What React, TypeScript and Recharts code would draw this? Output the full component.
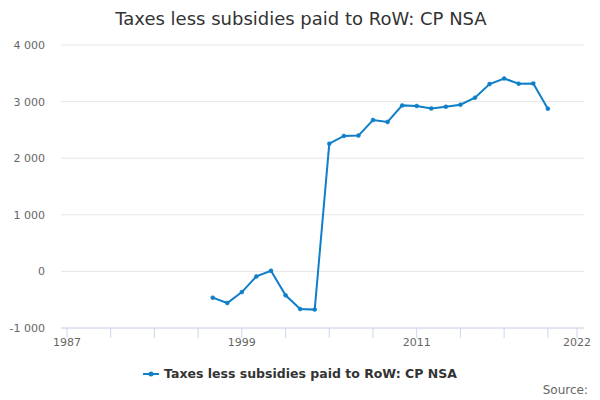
import React from 'react';
import { CartesianGrid, Legend, Line, LineChart, XAxis, YAxis } from 'recharts';

const years = [
  1997, 1998, 1999, 2000, 2001, 2002, 2003, 2004, 2005, 2006, 2007, 2008,
  2009, 2010, 2011, 2012, 2013, 2014, 2015, 2016, 2017, 2018, 2019, 2020,
];
const values = [
  -464, -559, -365, -88, 12, -423, -665, -675, 2257, 2393, 2399, 2675,
  2640, 2933, 2922, 2880, 2910, 2945, 3069, 3310, 3409, 3316, 3321, 2875,
];
const xTicks = [1987, 1990, 1993, 1996, 1999, 2002, 2005, 2008, 2011, 2014, 2017, 2020, 2022];
const xLabels = [1987, 1999, 2011, 2022];
const yTicks = [-1000, 0, 1000, 2000, 3000, 4000];

const seriesName = 'Taxes less subsidies paid to RoW: CP NSA';
const color = '#0f7fc8';
const font = '"DejaVu Sans", sans-serif';

const data = years.map((year, i) => ({ year, value: values[i] }));

const formatY = (v: number) => {
  const s = Math.abs(v).toString().replace(/\B(?=(\d{3})+(?!\d))/g, ' ');
  return v < 0 ? `-${s}` : s;
};

const LegendContent = () => (
  <div style={{ display: 'flex', justifyContent: 'center', alignItems: 'center', fontFamily: font }}>
    <svg width={16} height={10} style={{ marginRight: 5 }}>
      <line x1={0} y1={5} x2={16} y2={5} stroke={color} strokeWidth={2} />
      <circle cx={8} cy={5} r={2.5} fill={color} />
    </svg>
    <span style={{ fontSize: 12.5, fontWeight: 'bold', color: '#333333' }}>{seriesName}</span>
  </div>
);

export default function App() {
  return (
    <div style={{ position: 'absolute', left: 0, top: 0, width: 600, height: 400, background: '#fff', fontFamily: font }}>
      <div style={{ position: 'absolute', top: 8, left: 0, width: 602, textAlign: 'center', fontSize: 18, color: '#333333' }}>
        {seriesName}
      </div>
      <LineChart width={600} height={400} data={data} margin={{ top: 45, right: 16, left: 0, bottom: 0 }}>
        <CartesianGrid vertical={false} stroke="#e6e6e6" />
        <XAxis
          dataKey="year"
          type="number"
          domain={[1987, 2022]}
          ticks={xTicks}
          padding={{ left: 6, right: 7 }}
          height={72}
          tickSize={10}
          tickMargin={0}
          stroke="#ccd6eb"
          tick={{ fill: '#666666', fontSize: 11, fontFamily: font }}
          tickFormatter={(v: number) => (xLabels.includes(v) ? String(v) : '')}
        />
        <YAxis
          domain={[-1000, 4000]}
          ticks={yTicks}
          width={61}
          axisLine={false}
          tickLine={false}
          tickSize={0}
          tickMargin={16}
          tick={{ fill: '#666666', fontSize: 11, fontFamily: font }}
          tickFormatter={formatY}
        />
        <Legend
          layout="horizontal"
          verticalAlign="middle"
          align="center"
          wrapperStyle={{ top: 366, left: 0, width: 600 }}
          content={LegendContent}
        />
        <Line
          type="linear"
          dataKey="value"
          name={seriesName}
          stroke={color}
          strokeWidth={2}
          dot={{ r: 2, fill: color, stroke: color, strokeWidth: 0.5 }}
          isAnimationActive={false}
        />
      </LineChart>
      <div style={{ position: 'absolute', top: 383, right: 12, fontSize: 12, color: '#666666' }}>Source:</div>
    </div>
  );
}
